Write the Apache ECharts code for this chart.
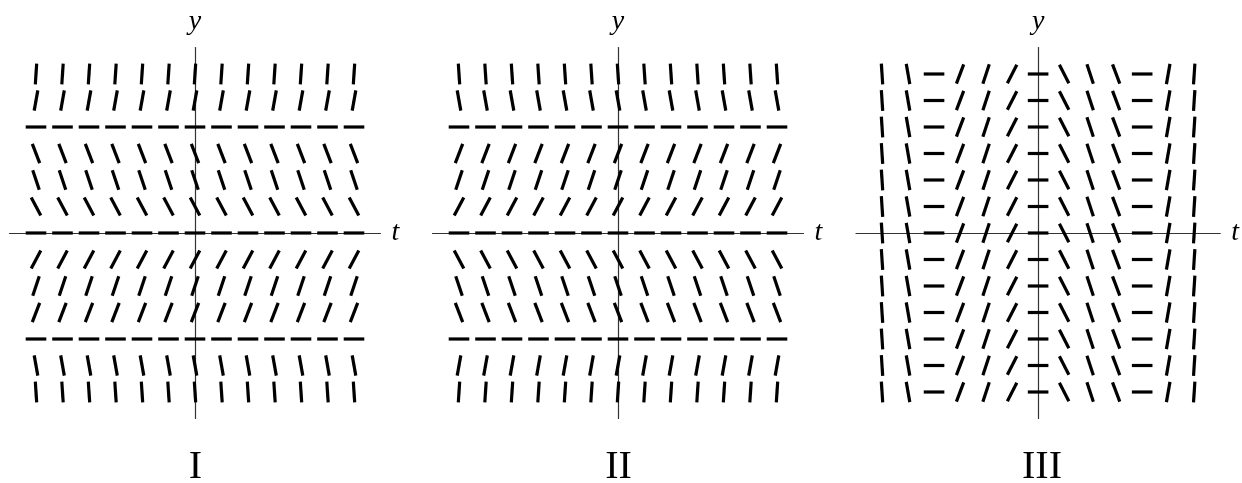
<!DOCTYPE html>
<html>
<head>
<meta charset="utf-8">
<title>slope fields I II III</title>
<script src="https://cdn.jsdelivr.net/npm/echarts@6/dist/echarts.min.js"></script>
<style>
  html, body { margin: 0; padding: 0; background: #fff; }
  #main { width: 1242px; height: 483px; }
</style>
</head>
<body>
<div id="main"></div>
<script>
// grid points, same in every panel
const tValues = [-3, -2.5, -2, -1.5, -1, -0.5, 0, 0.5, 1, 1.5, 2, 2.5, 3]
const yValues = [3, 2.5, 2, 1.5, 1, 0.5, 0, -0.5, -1, -1.5, -2, -2.5, -3]
// slopes: I and II go by row (top to bottom), III by column (left to right)
const slopesI = [15, 5.6, 0, -2.6, -3, -1.9, 0, 1.9, 3, 2.6, 0, -5.6, -15]
const slopesII = [-15, -5.6, 0, 2.6, 3, 1.9, 0, -1.9, -3, -2.6, 0, 5.6, 15]
const slopesIII = [-15, -5.6, 0, 2.6, 3, 1.9, 0, -1.9, -3, -2.6, 0, 5.6, 15]
const panelLabels = ['I', 'II', 'III']
const axisNames = ['t', 'y']

const centers = [195, 618, 1041.5]
const half = 185.5
const segHalf = 10.3

function rowField (slopes) {
  const out = []
  yValues.forEach((y, i) => {
    tValues.forEach(t => {
      out.push([t, y, slopes[i]])
    })
  })
  return out
}

function colField (slopes) {
  const out = []
  yValues.forEach(y => {
    tValues.forEach((t, j) => {
      out.push([t, y, slopes[j]])
    })
  })
  return out
}

const fields = [rowField(slopesI), rowField(slopesII), colField(slopesIII)]

function renderSeg (params, api) {
  const t = api.value(0)
  const y = api.value(1)
  const m = api.value(2)
  const c = api.coord([t, y])
  const p = api.coord([t + 0.1, y + 0.1 * m])
  let dx = p[0] - c[0]
  let dy = p[1] - c[1]
  const len = Math.sqrt(dx * dx + dy * dy)
  dx = dx / len * segHalf
  dy = dy / len * segHalf
  return {
    type: 'line',
    shape: { x1: c[0] - dx, y1: c[1] - dy, x2: c[0] + dx, y2: c[1] + dy },
    style: { stroke: '#000', lineWidth: 3.2, lineCap: 'butt' }
  }
}

const nameStyle = {
  fontFamily: 'Liberation Serif',
  fontStyle: 'italic',
  fontSize: 28,
  color: '#000'
}

const axisCommon = {
  type: 'value',
  min: -3.5,
  max: 3.5,
  axisLine: { onZero: true, lineStyle: { color: '#333', width: 1.2 } },
  axisTick: { show: false },
  axisLabel: { show: false },
  splitLine: { show: false },
  nameTextStyle: nameStyle
}

const chart = echarts.init(document.getElementById('main'), null, { renderer: 'canvas' })

const option = {
  animation: false,
  backgroundColor: '#fff',
  grid: centers.map(cx => ({
    left: cx - half,
    top: 233 - half,
    width: half * 2,
    height: half * 2
  })),
  xAxis: centers.map((cx, i) => Object.assign({}, axisCommon, {
    gridIndex: i,
    name: axisNames[0],
    nameLocation: 'end',
    nameGap: 11
  })),
  yAxis: centers.map((cx, i) => Object.assign({}, axisCommon, {
    gridIndex: i,
    name: axisNames[1],
    nameLocation: 'end',
    nameGap: 12
  })),
  series: fields.map((data, i) => ({
    type: 'custom',
    xAxisIndex: i,
    yAxisIndex: i,
    renderItem: renderSeg,
    data: data,
    silent: true
  })),
  graphic: centers.map((cx, i) => ({
    type: 'text',
    x: cx + 0.5,
    y: 467.5,
    style: {
      text: panelLabels[i],
      fontFamily: 'Liberation Serif',
      fontSize: 40,
      fill: '#000',
      align: 'center',
      verticalAlign: 'middle'
    }
  }))
}

chart.setOption(option)
</script>
</body>
</html>
